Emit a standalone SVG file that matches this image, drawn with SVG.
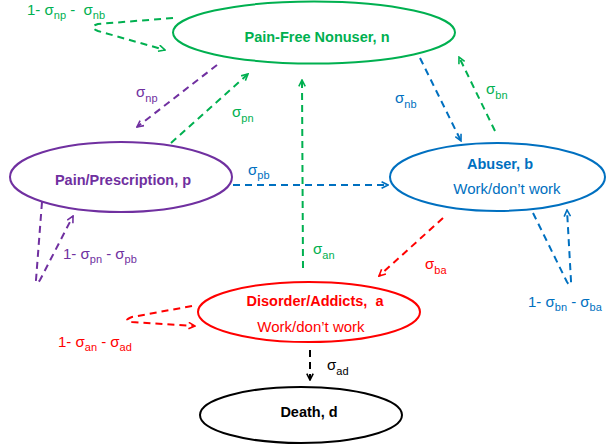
<svg xmlns="http://www.w3.org/2000/svg" width="606" height="448" viewBox="0 0 606 448">
<style>
text{font-family:"Liberation Sans",Arial,sans-serif}
.node{fill:#fff;stroke-width:2}
.title{font-weight:bold;font-size:14.5px;text-anchor:middle}
.sub2{font-size:15px;text-anchor:middle}
.lab{font-size:15px}
.conn{fill:none;stroke-width:2;stroke-dasharray:7,5}
.g{stroke:#00B050}.pu{stroke:#7030A0}.bl{stroke:#0070C0}.rd{stroke:#FF0000}.bk{stroke:#000}
.tg{fill:#00B050}.tpu{fill:#7030A0}.tbl{fill:#0070C0}.trd{fill:#FF0000}.tbk{fill:#000}
</style>
<defs>
<marker id="ag" viewBox="0 0 10 10" refX="9" refY="5" markerWidth="8" markerHeight="8" markerUnits="userSpaceOnUse" orient="auto"><path d="M1,1 L9,5 L1,9" fill="none" stroke="#00B050" stroke-width="2"/></marker>
<marker id="apu" viewBox="0 0 10 10" refX="9" refY="5" markerWidth="8" markerHeight="8" markerUnits="userSpaceOnUse" orient="auto"><path d="M1,1 L9,5 L1,9" fill="none" stroke="#7030A0" stroke-width="2"/></marker>
<marker id="abl" viewBox="0 0 10 10" refX="9" refY="5" markerWidth="8" markerHeight="8" markerUnits="userSpaceOnUse" orient="auto"><path d="M1,1 L9,5 L1,9" fill="none" stroke="#0070C0" stroke-width="2"/></marker>
<marker id="ard" viewBox="0 0 10 10" refX="9" refY="5" markerWidth="8" markerHeight="8" markerUnits="userSpaceOnUse" orient="auto"><path d="M1,1 L9,5 L1,9" fill="none" stroke="#FF0000" stroke-width="2"/></marker>
<marker id="abk" viewBox="0 0 10 10" refX="9" refY="5" markerWidth="8" markerHeight="8" markerUnits="userSpaceOnUse" orient="auto"><path d="M1,1 L9,5 L1,9" fill="none" stroke="#000" stroke-width="2"/></marker>
</defs>
<rect width="606" height="448" fill="#fff"/>

<g id="connectors">
  <path class="conn g" d="M173,18 L98,24 Q88,27 98,31 L165,50" marker-end="url(#ag)"/>
  <path class="conn pu" d="M217,65 L137,127" marker-end="url(#apu)"/>
  <path class="conn g" d="M171,143 L248,74" marker-end="url(#ag)"/>
  <path class="conn g" d="M303,268 L302,80" marker-end="url(#ag)"/>
  <path class="conn bl" d="M420,58 L461,141" marker-end="url(#abl)"/>
  <path class="conn g" d="M495,131 L459,57" marker-end="url(#ag)"/>
  <path class="conn bl" d="M233,185 L388,185" marker-end="url(#abl)"/>
  <path class="conn rd" d="M443,218 L379,276" marker-end="url(#ard)"/>
  <path class="conn bl" d="M533,213 L567,282 Q571,288 571,281 L567,210" marker-end="url(#abl)"/>
  <path class="conn pu" d="M42,202 L36,280 Q36,286 40,280 L73,216" marker-end="url(#apu)"/>
  <path class="conn rd" d="M192,306 L132,317 Q122,321 132,322 L195,326" marker-end="url(#ard)"/>
  <path class="conn bk" d="M310,350 L310,380" marker-end="url(#abk)"/>

  <text class="lab tg" x="27" y="15" xml:space="preserve">1- σ<tspan font-size="11" dy="4">np</tspan><tspan dy="-4"> -  σ</tspan><tspan font-size="11" dy="4">nb</tspan></text>
  <text class="lab tpu" x="136" y="97">σ<tspan font-size="11" dy="5">np</tspan></text>
  <text class="lab tg" x="232" y="117">σ<tspan font-size="11" dy="5">pn</tspan></text>
  <text class="lab tg" x="313" y="254">σ<tspan font-size="11" dy="5">an</tspan></text>
  <text class="lab tbl" x="395" y="103">σ<tspan font-size="11" dy="5">nb</tspan></text>
  <text class="lab tg" x="486" y="94">σ<tspan font-size="11" dy="5">bn</tspan></text>
  <text class="lab tbl" x="248" y="175">σ<tspan font-size="11" dy="4">pb</tspan></text>
  <text class="lab trd" x="425" y="269">σ<tspan font-size="11" dy="5">ba</tspan></text>
  <text class="lab tbk" x="327" y="370">σ<tspan font-size="11" dy="5">ad</tspan></text>
  <text class="lab tpu" x="63" y="259">1- σ<tspan font-size="11" dy="4">pn</tspan><tspan dy="-4"> - σ</tspan><tspan font-size="11" dy="4">pb</tspan></text>
  <text class="lab tbl" x="528" y="307">1- σ<tspan font-size="11" dy="4">bn</tspan><tspan dy="-4"> - σ</tspan><tspan font-size="11" dy="4">ba</tspan></text>
  <text class="lab trd" x="58" y="347">1- σ<tspan font-size="11" dy="4">an</tspan><tspan dy="-4"> - σ</tspan><tspan font-size="11" dy="4">ad</tspan></text>
</g>

<g id="node-n">
  <ellipse class="node g" cx="314" cy="32.5" rx="141" ry="31"/>
  <text class="title tg" x="317" y="42">Pain-Free Nonuser, n</text>
</g>
<g id="node-p">
  <ellipse class="node pu" cx="121" cy="177" rx="111" ry="35"/>
  <text class="title tpu" x="123" y="185">Pain/Prescription, p</text>
</g>
<g id="node-b">
  <ellipse class="node bl" cx="497.5" cy="177" rx="107.5" ry="34"/>
  <text class="title tbl" x="500" y="169">Abuser, b</text>
  <text class="sub2 tbl" x="507" y="194">Work/don’t work</text>
</g>
<g id="node-a">
  <ellipse class="node rd" cx="309" cy="312" rx="111" ry="30"/>
  <text class="title trd" x="315" y="306" xml:space="preserve">Disorder/Addicts,  a</text>
  <text class="sub2 trd" x="311" y="332">Work/don’t work</text>
</g>
<g id="node-d">
  <ellipse class="node bk" cx="301" cy="415" rx="101" ry="28"/>
  <text class="title tbk" x="309" y="417">Death, d</text>
</g>
</svg>
